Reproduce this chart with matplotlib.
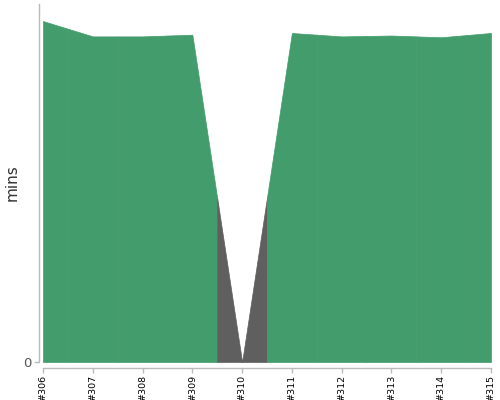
import numpy as np
import matplotlib
matplotlib.use("Agg")
import matplotlib.pyplot as plt

builds = [306, 307, 308, 309, 310, 311, 312, 313, 314, 315]
labels = ["#306", "#307", "#308", "#309", "#310", "#311", "#312", "#313", "#314", "#315"]
durations = [20.0, 19.1, 19.1, 19.2, 0.0, 19.3, 19.1, 19.15, 19.05, 19.3]
status = ["success", "success", "success", "success", "failure",
          "success", "success", "success", "success", "success"]
colors = {"success": "#439c6c", "failure": "#5f5f5f"}

fig = plt.figure(figsize=(5, 4), dpi=100)
ax = fig.add_axes([0.086, 0.095, 0.896, 0.895])

x = np.array(builds, dtype=float)
y = np.array(durations, dtype=float)
for i, b in enumerate(builds):
    lo = max(b - 0.5, x[0])
    hi = min(b + 0.5, x[-1])
    xs = np.array([lo, b, hi])
    ys = np.interp(xs, x, y)
    ax.fill_between(xs, 0, ys, color=colors[status[i]], linewidth=0.5,
                    edgecolor=colors[status[i]])

ax.set_xlim(x[0], x[-1])
ax.set_ylim(0, 21)
ax.set_xticks(builds)
ax.set_xticklabels(labels)
ax.set_yticks([0])
ax.set_yticklabels(["0"])

for s in ["top", "right"]:
    ax.spines[s].set_visible(False)
ax.spines["left"].set_position(("outward", 3))
ax.spines["bottom"].set_position(("outward", 4))
for s in ["left", "bottom"]:
    ax.spines[s].set_color("#bbbbbb")
    ax.spines[s].set_linewidth(1)
ax.tick_params(axis="both", color="#bbbbbb", length=3.5, width=1)
ax.tick_params(axis="x", labelrotation=90, labelsize=6.8, labelcolor="black", pad=1.5)
ax.tick_params(axis="y", labelsize=9.5, labelcolor="#555555", pad=2)
ax.set_ylabel("mins", fontsize=11, color="#333333", labelpad=2)

fig.savefig("out.png", dpi=100)
